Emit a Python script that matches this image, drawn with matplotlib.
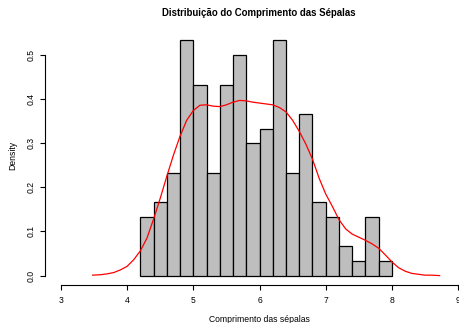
import matplotlib
matplotlib.use("Agg")
import matplotlib.pyplot as plt

# histogram of sepal length (density scale), breaks every 0.2
breaks = [4.2, 4.4, 4.6, 4.8, 5.0, 5.2, 5.4, 5.6, 5.8, 6.0, 6.2, 6.4, 6.6, 6.8,
          7.0, 7.2, 7.4, 7.6, 7.8, 8.0]
density = [0.133, 0.167, 0.233, 0.533, 0.433, 0.233, 0.433, 0.500, 0.300, 0.333,
           0.533, 0.233, 0.367, 0.167, 0.133, 0.067, 0.033, 0.133, 0.033]

# red density curve
curve_x = [3.48, 3.6, 3.7, 3.8, 3.9, 4.0, 4.1, 4.2, 4.3, 4.4, 4.5, 4.6, 4.7, 4.8,
           4.9, 5.0, 5.1, 5.2, 5.3, 5.4, 5.5, 5.6, 5.7, 5.8, 5.9, 6.0, 6.1, 6.2,
           6.3, 6.4, 6.5, 6.6, 6.7, 6.8, 6.9, 7.0, 7.1, 7.2, 7.3, 7.4, 7.5, 7.6,
           7.7, 7.8, 7.9, 8.0, 8.1, 8.2, 8.3, 8.4, 8.5, 8.6, 8.72]
curve_y = [0.001, 0.002, 0.004, 0.007, 0.013, 0.021, 0.036, 0.056, 0.085, 0.128,
           0.175, 0.225, 0.273, 0.316, 0.352, 0.374, 0.386, 0.387, 0.384, 0.383,
           0.387, 0.393, 0.397, 0.396, 0.393, 0.391, 0.389, 0.387, 0.381, 0.371,
           0.352, 0.327, 0.298, 0.264, 0.221, 0.185, 0.157, 0.127, 0.106, 0.094,
           0.087, 0.080, 0.072, 0.062, 0.047, 0.031, 0.018, 0.010, 0.005, 0.003,
           0.001, 0.001, 0.000]

xticks = [3, 4, 5, 6, 7, 8, 9]
yticks = [0.0, 0.1, 0.2, 0.3, 0.4, 0.5]

W, H = 460, 323
plt.rcParams.update({"font.family": ["Liberation Sans", "DejaVu Sans"],
                     "font.size": 6.2})
fig = plt.figure(figsize=(W / 100, H / 100), dpi=100)

# plot region in pixels (R style, 4% axis padding; right side runs off the device)
left, right, top, bottom = 45, 474, 30.7, 285
ax = fig.add_axes([left / W, (H - bottom) / H, (right - left) / W, (bottom - top) / H])
ax.set_xlim(2.76, 9.24)
ax.set_ylim(-0.0213, 0.555)

widths = [b - a for a, b in zip(breaks[:-1], breaks[1:])]
ax.bar(breaks[:-1], density, width=widths, align="edge", color="#bebebe",
       edgecolor="black", linewidth=0.9)
ax.plot(curve_x, curve_y, color="red", linewidth=0.9)

for s in ("top", "right"):
    ax.spines[s].set_visible(False)
ax.spines["left"].set_bounds(0, 0.5)
ax.spines["bottom"].set_bounds(3, 9)
ax.spines["left"].set_linewidth(0.8)
ax.spines["bottom"].set_linewidth(0.8)
ax.set_xticks(xticks)
ax.set_xticklabels([str(t) for t in xticks])
ax.set_yticks(yticks)
ax.set_yticklabels([f"{t:.1f}" for t in yticks])
ax.tick_params(direction="out", length=3.6, width=0.8, pad=4.5)
ax.tick_params(axis="y", labelrotation=90, pad=3.2)
for lab in ax.get_yticklabels():
    lab.set_va("center")

fig.text(0.5 * (left + right) / W - 0.5 / W, 1 - 13 / H,
         "Distribuição do Comprimento das Sépalas", fontweight="bold",
         fontsize=6.9, ha="center", va="center")
fig.text(0.5 * (left + right) / W, 1 - 320 / H, "Comprimento das sépalas",
         ha="center", va="center", fontsize=6.2)
fig.text(12.5 / W, 1 - 155 / H, "Density", ha="center", va="center",
         rotation=90, fontsize=6.2)

fig.savefig("out.png", dpi=100)
